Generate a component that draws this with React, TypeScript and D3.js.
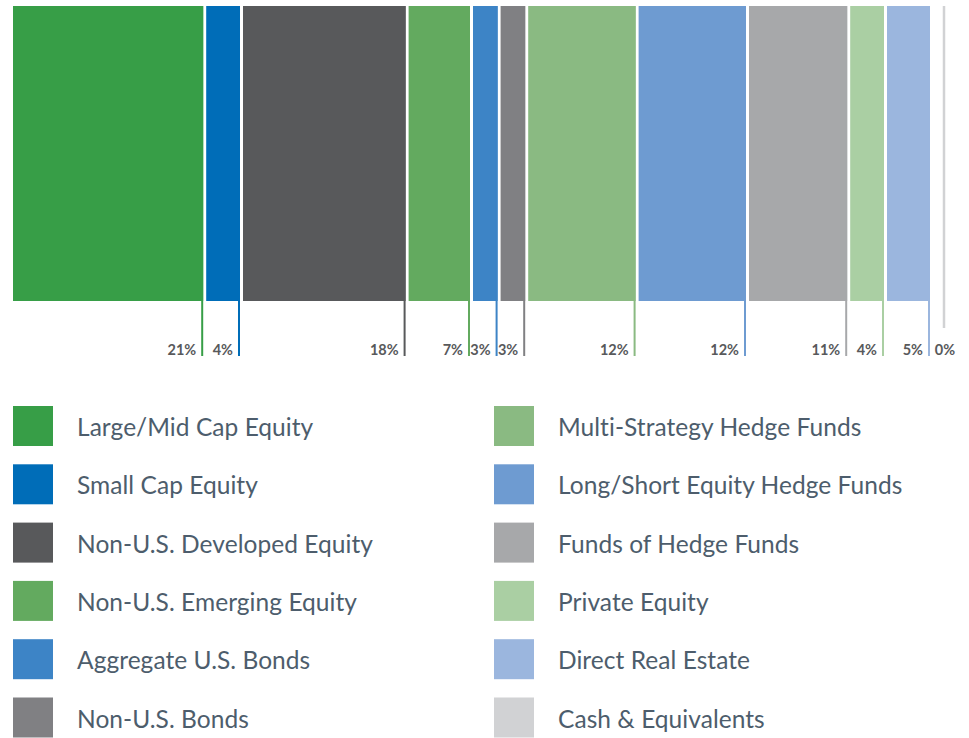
import React from "react";
import * as d3 from "d3";

const categories = [
  "Large/Mid Cap Equity",
  "Small Cap Equity",
  "Non-U.S. Developed Equity",
  "Non-U.S. Emerging Equity",
  "Aggregate U.S. Bonds",
  "Non-U.S. Bonds",
  "Multi-Strategy Hedge Funds",
  "Long/Short Equity Hedge Funds",
  "Funds of Hedge Funds",
  "Private Equity",
  "Direct Real Estate",
  "Cash & Equivalents",
];
const values = [21, 4, 18, 7, 3, 3, 12, 12, 11, 4, 5, 0];
const colors = [
  "#379e47",
  "#006db8",
  "#58595b",
  "#63aa5f",
  "#3d84c6",
  "#808083",
  "#8aba82",
  "#6e9bd1",
  "#a7a8aa",
  "#aacfa3",
  "#9bb6de",
  "#d1d2d4",
];

export default function App() {
  const W = 969, H = 738;
  const x = d3.scaleLinear().domain([0, 100]).range([13, 933]);
  const barTop = 6, barBottom = 301, tickBottom = 356;
  const cum: number[] = [];
  values.reduce((a, v) => { cum.push(a); return a + v; }, 0);

  const legendRow = d3.scaleLinear().domain([0, 1]).range([406, 464.3]);
  const legendCol = [13, 494];
  const labelFont = "Lato, 'Open Sans', sans-serif";

  return (
    <svg width={W} height={H} style={{ position: "absolute", left: 0, top: 0 }}>
      {values.map((v, i) => {
        const x0 = x(cum[i]);
        const x1 = x(cum[i] + v);
        if (v === 0) {
          const lx = x1 + 11;
          return (
            <g key={i}>
              <line x1={lx} x2={lx} y1={barTop} y2={328} stroke={colors[i]} strokeWidth={2.5} />
              <text x={lx + 1} y={355} textAnchor="middle" fontFamily={labelFont} fontWeight={700} fontSize={14.5} fill="#58595b">
                {v}%
              </text>
            </g>
          );
        }
        return (
          <g key={i}>
            <rect x={x0} y={barTop} width={x1 - x0 - 3} height={barBottom - barTop} fill={colors[i]} />
            <line x1={x1 - 4} x2={x1 - 4} y1={barTop} y2={tickBottom} stroke={colors[i]} strokeWidth={2} />
            <text x={x1 - 10} y={355} textAnchor="end" fontFamily={labelFont} fontWeight={700} fontSize={14.5} fill="#58595b">
              {v}%
            </text>
          </g>
        );
      })}
      {categories.map((c, i) => {
        const col = Math.floor(i / 6);
        const row = i % 6;
        const y = legendRow(row);
        return (
          <g key={c}>
            <rect x={legendCol[col]} y={y} width={40} height={40} fill={colors[i]} />
            <text x={legendCol[col] + 64} y={y + 30} fontFamily="Lato, sans-serif" fontSize={24.5} letterSpacing={0.05} fill="#4d5d6c">
              {c}
            </text>
          </g>
        );
      })}
    </svg>
  );
}
